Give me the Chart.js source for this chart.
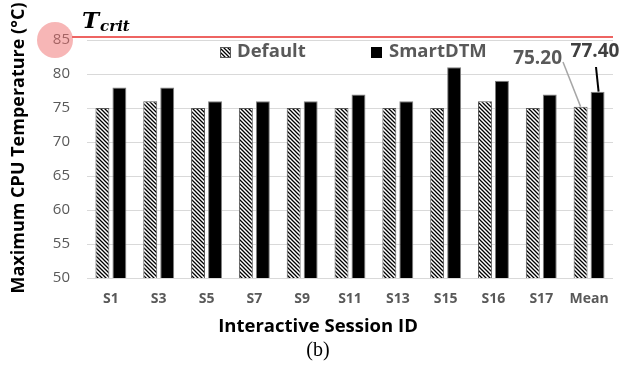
<!DOCTYPE html>
<html>
<head>
<meta charset="utf-8">
<script src="https://cdn.jsdelivr.net/npm/chart.js@4.4.1/dist/chart.umd.min.js"></script>
<style>
  html, body { margin: 0; padding: 0; background: #ffffff; }
  #wrap { width: 623px; height: 374px; position: relative; }
</style>
</head>
<body>
<div id="wrap"><canvas id="c" width="623" height="374"></canvas></div>
<script>
// Session IDs on the x axis
const sessions = ['S1', 'S3', 'S5', 'S7', 'S9', 'S11', 'S13', 'S15', 'S16', 'S17', 'Mean'];
// Maximum CPU temperature (°C) per session
const defaultTemps = [75, 76, 75, 75, 75, 75, 75, 75, 76, 75, 75.2];
const smartDtmTemps = [78, 78, 76, 76, 76, 77, 76, 81, 79, 77, 77.4];
// Y axis range and critical temperature
const yTicks = [50, 55, 60, 65, 70, 75, 80, 85];
const tCrit = 85;

const FONT = '"Open Sans", "Noto Sans", sans-serif';
const GRAY = '#595959';

// Diagonal hatch fill for the Default series
function makeHatch() {
  const s = 4;
  const pc = document.createElement('canvas');
  pc.width = s; pc.height = s;
  const g = pc.getContext('2d');
  g.fillStyle = '#ffffff';
  g.fillRect(0, 0, s, s);
  g.strokeStyle = '#000000';
  g.lineWidth = 1.3;
  g.beginPath();
  g.moveTo(-1, -1); g.lineTo(s + 1, s + 1);
  g.moveTo(-1, s - 1); g.lineTo(1, s + 1);
  g.moveTo(s - 1, -1); g.lineTo(s + 1, 1);
  g.stroke();
  return document.getElementById('c').getContext('2d').createPattern(pc, 'repeat');
}
const hatch = makeHatch();

// Decorations: critical-temperature line, marker, legend, labels, titles
const decor = {
  id: 'decor',
  afterDraw(chart) {
    const ctx = chart.ctx;
    const ys = chart.scales.y;
    const area = chart.chartArea;
    ctx.save();

    // critical temperature line
    const yc = ys.getPixelForValue(tCrit) - 3;
    ctx.strokeStyle = '#e8302e';
    ctx.lineWidth = 1.5;
    ctx.beginPath();
    ctx.moveTo(72, yc);
    ctx.lineTo(area.right, yc);
    ctx.stroke();

    // highlight circle around the 85 tick
    ctx.fillStyle = 'rgba(240, 110, 110, 0.5)';
    ctx.beginPath();
    ctx.arc(55, ys.getPixelForValue(tCrit), 18, 0, Math.PI * 2);
    ctx.fill();

    // T_crit label
    ctx.fillStyle = '#000000';
    ctx.textBaseline = 'alphabetic';
    ctx.textAlign = 'left';
    ctx.font = 'italic bold 23px "DejaVu Serif", "Liberation Serif", serif';
    ctx.fillText('T', 82, 28);
    const tw = ctx.measureText('T').width;
    ctx.font = 'italic bold 15px "DejaVu Serif", "Liberation Serif", serif';
    ctx.fillText('crit', 82 + tw + 1, 31);

    // legend
    ctx.textBaseline = 'middle';
    ctx.font = 'bold 18.5px ' + FONT;
    ctx.fillStyle = hatch;
    ctx.fillRect(220, 47, 11, 11);
    ctx.strokeStyle = GRAY; ctx.lineWidth = 1;
    ctx.strokeRect(220.5, 47.5, 10, 10);
    ctx.fillStyle = GRAY;
    ctx.fillText('Default', 237, 52);
    ctx.fillStyle = '#000000';
    ctx.fillRect(371, 47, 11, 11);
    ctx.fillStyle = GRAY;
    ctx.fillText('SmartDTM', 389, 52);

    // value callouts for the Mean group
    const meanIdx = sessions.length - 1;
    const m0 = chart.getDatasetMeta(0).data[meanIdx];
    const m1 = chart.getDatasetMeta(1).data[meanIdx];
    ctx.font = 'bold 19px ' + FONT;
    ctx.textAlign = 'right';
    ctx.fillStyle = GRAY;
    ctx.fillText(defaultTemps[meanIdx].toFixed(2), 562, 59);
    ctx.strokeStyle = '#a6a6a6';
    ctx.lineWidth = 1.5;
    ctx.beginPath();
    ctx.moveTo(563, 62);
    ctx.lineTo(m0.x, m0.y);
    ctx.stroke();
    ctx.textAlign = 'center';
    ctx.fillStyle = '#404040';
    ctx.fillText(smartDtmTemps[meanIdx].toFixed(2), 595, 52);
    ctx.strokeStyle = '#000000';
    ctx.lineWidth = 2;
    ctx.beginPath();
    ctx.moveTo(596, 67);
    ctx.lineTo(m1.x + 1, m1.y);
    ctx.stroke();

    // axis titles
    ctx.fillStyle = '#000000';
    ctx.font = 'bold 18.5px ' + FONT;
    ctx.textAlign = 'center';
    ctx.fillText('Interactive Session ID', 318, 327);
    ctx.save();
    ctx.translate(19, 148);
    ctx.rotate(-Math.PI / 2);
    ctx.font = 'bold 18px ' + FONT;
    ctx.fillText('Maximum CPU Temperature (°C)', 0, 0);
    ctx.restore();

    // panel label
    ctx.font = '20px "Liberation Serif", "DejaVu Serif", serif';
    ctx.fillStyle = '#000000';
    ctx.fillText('(b)', 318, 351);

    ctx.restore();
  }
};

new Chart(document.getElementById('c'), {
  type: 'bar',
  data: {
    labels: sessions,
    datasets: [
      {
        label: 'Default',
        data: defaultTemps,
        backgroundColor: hatch,
        borderColor: GRAY,
        borderWidth: 1,
        borderSkipped: 'bottom'
      },
      {
        label: 'SmartDTM',
        data: smartDtmTemps,
        backgroundColor: '#000000',
        borderColor: '#7f7f7f',
        borderWidth: 1,
        borderSkipped: 'bottom'
      }
    ]
  },
  options: {
    responsive: false,
    animation: false,
    devicePixelRatio: 1,
    layout: { padding: { left: 0, right: 10, top: 40, bottom: 0 } },
    datasets: {
      bar: { categoryPercentage: 0.71, barPercentage: 0.82 }
    },
    plugins: {
      legend: { display: false },
      tooltip: { enabled: false }
    },
    scales: {
      x: {
        grid: { display: false, drawTicks: false },
        border: { display: false },
        ticks: {
          color: GRAY,
          font: { family: FONT, size: 14, weight: 'bold' },
          padding: 13,
          maxRotation: 0
        },
        afterFit(axis) { axis.height = 96; }
      },
      y: {
        min: 50,
        max: 85,
        afterBuildTicks(axis) { axis.ticks = yTicks.map(v => ({ value: v })); },
        grid: { color: '#d9d9d9', lineWidth: 1, drawTicks: false },
        border: { display: false },
        ticks: {
          color: GRAY,
          font: { family: FONT, size: 15 },
          padding: 17
        },
        afterFit(axis) { axis.width = 87; }
      }
    }
  },
  plugins: [decor]
});
</script>
</body>
</html>
